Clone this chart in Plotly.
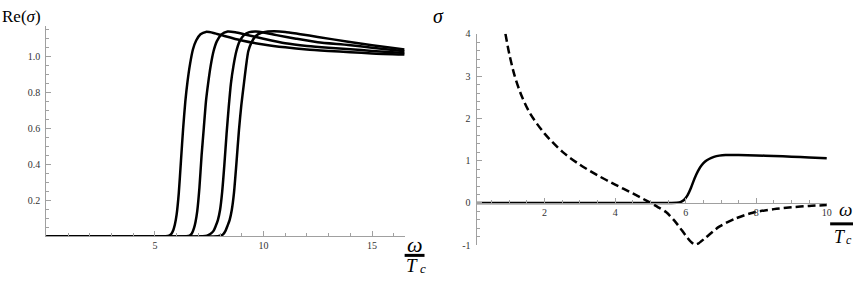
import plotly.graph_objects as go

W, H = 858, 283

# ---- Left panel: Re(sigma) vs omega/Tc, four curves ----
xa = [0, 5.5, 5.65, 5.75, 5.85, 5.92, 6.0, 6.1, 6.2, 6.3, 6.4, 6.5, 6.62, 6.75, 6.9, 7.1, 7.35, 7.7, 8.2, 9.0, 10.0, 11.0, 12.0, 13.0, 14.0, 15.0, 16.5]
ya = [0, 0, 0.003, 0.012, 0.035, 0.065, 0.12, 0.24, 0.42, 0.6, 0.75, 0.86, 0.96, 1.04, 1.09, 1.125, 1.138, 1.132, 1.115, 1.09, 1.068, 1.052, 1.04, 1.032, 1.025, 1.018, 1.012]

xb = [0, 6.45, 6.6, 6.7, 6.8, 6.87, 6.95, 7.05, 7.15, 7.25, 7.35, 7.45, 7.57, 7.7, 7.85, 8.05, 8.35, 8.7, 9.2, 10.0, 11.0, 12.0, 13.0, 14.0, 15.0, 16.5]
yb = [0, 0, 0.004, 0.015, 0.045, 0.08, 0.14, 0.27, 0.45, 0.6, 0.75, 0.85, 0.95, 1.03, 1.085, 1.122, 1.14, 1.136, 1.122, 1.1, 1.075, 1.06, 1.05, 1.042, 1.032, 1.02]

xc = [0, 7.2, 7.4, 7.55, 7.7, 7.8, 7.9, 8.0, 8.1, 8.2, 8.3, 8.4, 8.5, 8.62, 8.75, 8.9, 9.1, 9.35, 9.65, 10.0, 10.6, 11.5, 12.5, 13.9, 15.0, 16.5]
yc = [0, 0, 0.003, 0.012, 0.03, 0.057, 0.09, 0.146, 0.25, 0.4, 0.57, 0.72, 0.85, 0.95, 1.03, 1.085, 1.12, 1.137, 1.14, 1.135, 1.12, 1.1, 1.08, 1.065, 1.05, 1.03]

xd = [0, 7.9, 8.05, 8.15, 8.25, 8.34, 8.44, 8.54, 8.64, 8.75, 8.87, 8.98, 9.1, 9.2, 9.3, 9.45, 9.65, 9.9, 10.2, 10.5, 11.0, 11.7, 12.5, 13.9, 15.0, 16.5]
yd = [0, 0, 0.004, 0.012, 0.03, 0.057, 0.09, 0.146, 0.24, 0.4, 0.59, 0.73, 0.851, 0.95, 1.03, 1.08, 1.115, 1.133, 1.14, 1.142, 1.138, 1.125, 1.11, 1.083, 1.063, 1.04]

left_xticks = [5, 10, 15]
left_yticks = [0.2, 0.4, 0.6, 0.8, 1.0]
left_ytext = ["0.2", "0.4", "0.6", "0.8", "1.0"]

# ---- Right panel: sigma (real solid, imaginary dashed) ----
xs = [0.07, 5.6, 5.75, 5.85, 5.95, 6.05, 6.15, 6.25, 6.35, 6.45, 6.55, 6.66, 6.8, 6.95, 7.13, 7.5, 8.0, 8.5, 9.0, 9.5, 10.0]
ys = [0, 0, 0.005, 0.02, 0.07, 0.18, 0.36, 0.58, 0.76, 0.89, 0.98, 1.04, 1.09, 1.12, 1.135, 1.135, 1.125, 1.11, 1.095, 1.078, 1.06]

xdash = [0.89, 1.0, 1.15, 1.35, 1.6, 2.0, 2.5, 3.0, 3.5, 4.0, 4.5, 4.9, 5.2, 5.45, 5.73, 6.0, 6.15, 6.25, 6.35, 6.55, 6.95, 7.4, 7.9, 8.5, 9.0, 9.5, 10.0]
ydash = [4.0, 3.52, 3.01, 2.53, 2.10, 1.64, 1.215, 0.905, 0.655, 0.435, 0.225, 0.05, -0.09, -0.22, -0.47, -0.77, -0.92, -0.98, -0.96, -0.83, -0.56, -0.37, -0.23, -0.145, -0.1, -0.07, -0.05]

right_xticks = [2, 4, 6, 8, 10]
right_yticks = [-1, 0, 1, 2, 3, 4]

fig = go.Figure()
line = dict(color="black", width=2.5, shape="spline", smoothing=0.6)
for x, y in [(xa, ya), (xb, yb), (xc, yc), (xd, yd)]:
    fig.add_trace(go.Scatter(x=x, y=y, mode="lines", line=line, xaxis="x", yaxis="y", showlegend=False))
fig.add_trace(go.Scatter(x=xs, y=ys, mode="lines", line=line, xaxis="x2", yaxis="y2", showlegend=False))
fig.add_trace(go.Scatter(x=xdash, y=ydash, mode="lines",
                         line=dict(color="black", width=2.5, shape="spline", smoothing=0.8, dash="8px,4px"),
                         xaxis="x2", yaxis="y2", showlegend=False))

axcol = "#a0a0a0"
serif = "Liberation Serif"
tickfont = dict(family=serif, size=10, color="#333")
common = dict(showgrid=False, zeroline=False, showline=True, linecolor=axcol, linewidth=1,
              ticks="inside", ticklen=5, tickcolor=axcol, tickwidth=1, tickfont=tickfont)

def py(p):
    return 1 - p / H

fig.update_layout(
    width=W, height=H, autosize=False, margin=dict(l=0, r=0, t=0, b=0, pad=0),
    paper_bgcolor="white", plot_bgcolor="white",
    xaxis=dict(domain=[46.6 / W, 407 / W], range=[0, 16.5], anchor="y",
               tickvals=left_xticks, ticktext=[str(v) for v in left_xticks],
               minor=dict(dtick=1, tick0=0, ticks="inside", ticklen=3, tickcolor=axcol), **common),
    yaxis=dict(domain=[py(240.6), py(22)], range=[0, 1.17], anchor="x",
               tickvals=left_yticks, ticktext=left_ytext, ticklabelstandoff=3,
               minor=dict(dtick=0.05, tick0=0, ticks="inside", ticklen=3, tickcolor=axcol), **common),
    xaxis2=dict(domain=[479.3 / W, 831.7 / W], range=[0.07, 10], anchor="free",
                position=py(206), tickvals=right_xticks, ticktext=[str(v) for v in right_xticks],
                minor=dict(dtick=0.5, tick0=0, ticks="inside", ticklen=3, tickcolor=axcol), **common),
    yaxis2=dict(domain=[py(250), py(30)], range=[-1, 4], anchor="x2",
                tickvals=right_yticks, ticktext=[str(v) for v in right_yticks], ticklabelstandoff=3,
                minor=dict(dtick=0.2, tick0=0, ticks="inside", ticklen=3, tickcolor=axcol), **common),
)

ann = []
def A(text, x, y, size, xanchor="center"):
    ann.append(dict(text=text, x=x / W, y=py(y), xref="paper", yref="paper", showarrow=False,
                    font=dict(family=serif, size=size, color="black"), xanchor=xanchor, yanchor="middle",
                    borderpad=0))
A("Re(<i>σ</i>)", 22, 12, 17)
A("<i>σ</i>", 441, 11, 20)
# left omega / T_c
A("<i>ω</i>", 417, 249, 22)
A("<i>T</i>", 414, 271.5, 19)
A("<i>c</i>", 425, 274, 13)
# right omega / T_c
A("<i>ω</i>", 857.5, 213, 19, xanchor="right")
A("<i>T</i>", 845, 241, 18)
A("<i>c</i>", 857.5, 245, 12, xanchor="right")
fig.update_layout(annotations=ann)

fig.add_shape(type="line", xref="paper", yref="paper", x0=407 / W, x1=427 / W, y0=py(260.5), y1=py(260.5),
              line=dict(color="black", width=3))
fig.add_shape(type="line", xref="paper", yref="paper", x0=835 / W, x1=858 / W, y0=py(227.7), y1=py(227.7),
              line=dict(color="black", width=3))

fig.write_html("out.html",
               config={"displayModeBar": False, "responsive": False, "staticPlot": True},
               post_script="document.body.style.margin='0px';document.body.style.overflow='hidden';")
